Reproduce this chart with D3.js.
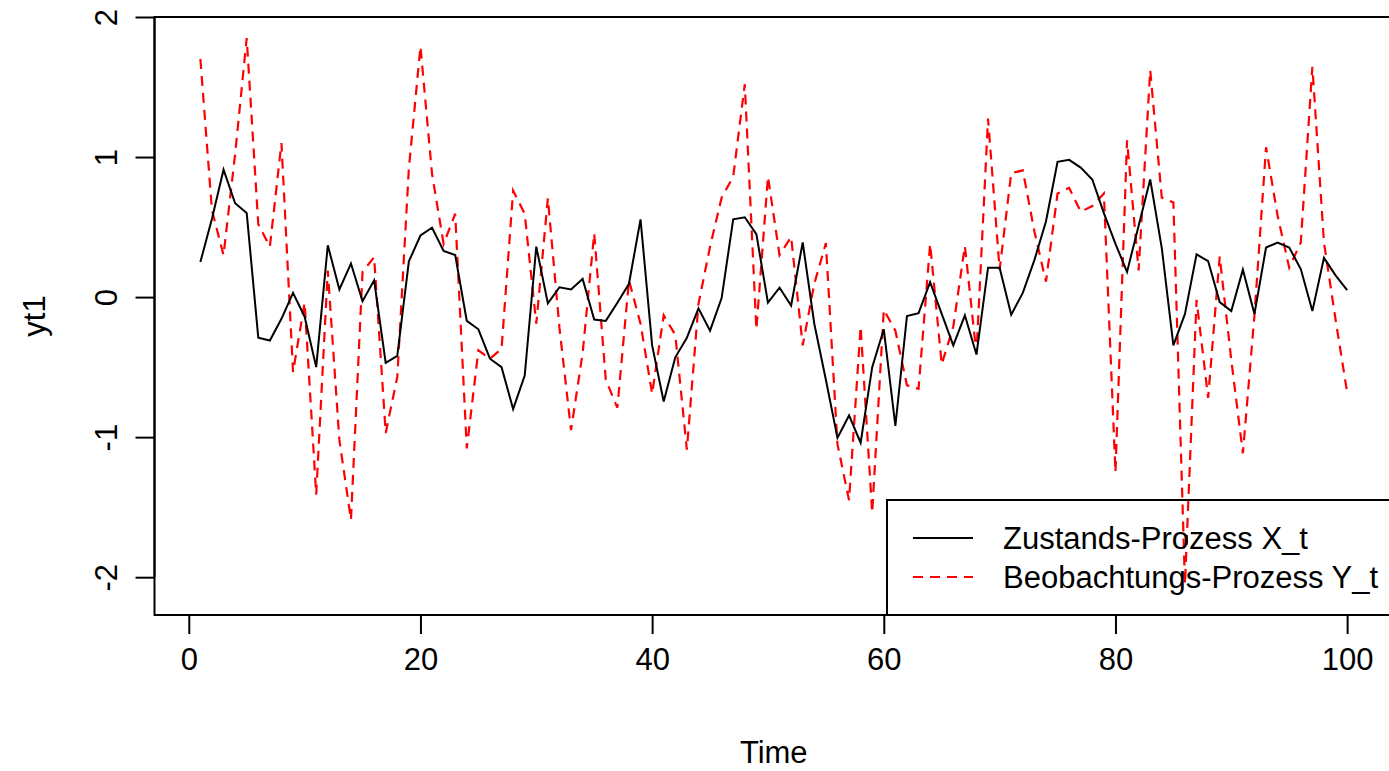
<!DOCTYPE html>
<html>
<head>
<meta charset="utf-8">
<script src="https://cdn.jsdelivr.net/npm/d3@7"></script>
<style>
  body { margin: 0; background: #fff; }
  text { font-family: "Liberation Sans", Arial, sans-serif; }
</style>
</head>
<body>
<svg id="chart" width="1389" height="771"></svg>
<script>
// time index 1..100
var time = d3.range(1, 101);

// Zustands-Prozess X_t
var xt = [
  0.25, 0.56, 0.91, 0.67, 0.60, -0.29, -0.31, -0.155, 0.03, -0.14,
  -0.50, 0.37, 0.055, 0.24, -0.03, 0.12, -0.47, -0.42, 0.255, 0.44,
  0.495, 0.33, 0.30, -0.17, -0.23, -0.44, -0.50, -0.80, -0.56, 0.36,
  -0.045, 0.07, 0.055, 0.13, -0.16, -0.17, -0.04, 0.095, 0.555, -0.345,
  -0.745, -0.43, -0.29, -0.08, -0.24, -0.007, 0.555, 0.57, 0.45, -0.04,
  0.067, -0.06, 0.39, -0.19, -0.59, -1.005, -0.845, -1.04, -0.50, -0.23,
  -0.92, -0.135, -0.115, 0.107, -0.12, -0.345, -0.13, -0.41, 0.21, 0.21,
  -0.126, 0.03, 0.264, 0.54, 0.966, 0.98, 0.925, 0.84, 0.60, 0.38,
  0.18, 0.51, 0.84, 0.35, -0.345, -0.12, 0.305, 0.257, -0.036, -0.10,
  0.196, -0.12, 0.354, 0.39, 0.354, 0.20, -0.10, 0.28, 0.155, 0.05
];

// Beobachtungs-Prozess Y_t
var yt = [
  1.70, 0.62, 0.30, 1.02, 1.85, 0.52, 0.36, 1.10, -0.535, -0.04,
  -1.41, 0.19, -1.02, -1.59, 0.18, 0.285, -0.97, -0.57, 0.92, 1.79,
  0.88, 0.38, 0.595, -1.08, -0.38, -0.44, -0.37, 0.76, 0.595, -0.19,
  0.705, -0.22, -0.95, -0.40, 0.455, -0.59, -0.79, 0.12, -0.19, -0.69,
  -0.13, -0.27, -1.09, -0.05, 0.36, 0.71, 0.86, 1.52, -0.23, 0.86,
  0.30, 0.43, -0.345, 0.095, 0.385, -1.05, -1.45, -0.21, -1.54, -0.09,
  -0.24, -0.63, -0.655, 0.38, -0.48, -0.21, 0.365, -0.405, 1.275, 0.195,
  0.885, 0.905, 0.47, 0.11, 0.74, 0.78, 0.61, 0.65, 0.74, -1.25,
  1.12, 0.19, 1.62, 0.71, 0.675, -2.05, -0.02, -0.72, 0.29, -0.45,
  -1.115, -0.13, 1.07, 0.58, 0.21, 0.39, 1.645, 0.39, -0.16, -0.68
];

var xTicks = [0, 20, 40, 60, 80, 100];
var yTicks = [-2, -1, 0, 1, 2];
var legendLabels = ["Zustands-Prozess X_t", "Beobachtungs-Prozess Y_t"];

var conf = {
    left: 154.5,
    right: 1393,
    top: 17,
    bottom: 615,
    fontSize: 31,
    tickLen: 19,
    lineWidth: 2,
    // R lty=2 scaled up
    dash: "10,7"
};

var svg = d3.select('#chart');

// R style range: 4% extension on each side
var x = d3.scaleLinear()
    .domain([1 - 0.04 * 99, 100 + 0.04 * 99])
    .range([conf.left, conf.right]);
var y = d3.scaleLinear()
    .domain([-2.27, 2.0])
    .range([conf.bottom, conf.top]);

var line = d3.line()
    .x(function(d, i){ return x(time[i]); })
    .y(function(d){ return y(d); });

// observation series (red dashed)
svg.append("path")
    .datum(yt)
    .attr("d", line)
    .attr("fill", "none")
    .attr("stroke", "#ff0000")
    .attr("stroke-width", 2.2)
    .attr("stroke-dasharray", conf.dash);

// state series (black)
svg.append("path")
    .datum(xt)
    .attr("d", line)
    .attr("fill", "none")
    .attr("stroke", "#000")
    .attr("stroke-width", conf.lineWidth);

// x axis
var xAxis = svg.append("g")
    .attr("transform", "translate(0," + conf.bottom + ")")
    .call(d3.axisBottom(x).tickValues(xTicks).tickSize(conf.tickLen).tickPadding(14).tickFormat(String));
xAxis.select(".domain")
    .attr("d", "M" + x(0) + ",0H" + x(100));

// y axis, labels turned like in R (plain hyphen minus)
var yAxis = svg.append("g")
    .attr("transform", "translate(" + conf.left + ",0)")
    .call(d3.axisLeft(y).tickValues(yTicks).tickSize(conf.tickLen).tickFormat(String));
yAxis.select(".domain")
    .attr("d", "M0," + y(-2) + "V" + y(2));
yAxis.selectAll(".tick text")
    .attr("x", null)
    .attr("dy", null)
    .attr("text-anchor", "middle")
    .attr("transform", "translate(-49,0) rotate(-90) translate(0,11)");

svg.selectAll(".tick line, .domain")
    .attr("stroke", "#000")
    .attr("stroke-width", conf.lineWidth);
svg.selectAll(".tick text")
    .attr("fill", "#000")
    .style("font-size", conf.fontSize + "px")
    .style("font-family", "'Liberation Sans', Arial, sans-serif");

// plot box
svg.append("rect")
    .attr("x", conf.left)
    .attr("y", conf.top)
    .attr("width", conf.right - conf.left)
    .attr("height", conf.bottom - conf.top)
    .attr("fill", "none")
    .attr("stroke", "#000")
    .attr("stroke-width", conf.lineWidth);

// axis titles
svg.append("text")
    .attr("x", (conf.left + conf.right) / 2)
    .attr("y", 763)
    .attr("text-anchor", "middle")
    .style("font-size", conf.fontSize + "px")
    .text("Time");

svg.append("text")
    .attr("transform", "translate(45," + ((conf.top + conf.bottom) / 2) + ") rotate(-90)")
    .attr("text-anchor", "middle")
    .style("font-size", conf.fontSize + "px")
    .text("yt1");

// legend, bottom right of plot region, no fill (lines show through)
var lg = svg.append("g");
lg.append("rect")
    .attr("x", 887)
    .attr("y", 500)
    .attr("width", conf.right - 887)
    .attr("height", conf.bottom - 500)
    .attr("fill", "none")
    .attr("stroke", "#000")
    .attr("stroke-width", conf.lineWidth);

var legendRows = [
    {label: legendLabels[0], color: "#000", dash: null, yy: 538},
    {label: legendLabels[1], color: "#ff0000", dash: conf.dash, yy: 577}
];
legendRows.forEach(function(r){
    lg.append("line")
        .attr("x1", 913)
        .attr("x2", 973)
        .attr("y1", r.yy)
        .attr("y2", r.yy)
        .attr("stroke", r.color)
        .attr("stroke-width", conf.lineWidth)
        .attr("stroke-dasharray", r.dash);
    lg.append("text")
        .attr("x", 1003)
        .attr("y", r.yy + 11)
        .style("font-size", conf.fontSize + "px")
        .text(r.label);
});
</script>
</body>
</html>
